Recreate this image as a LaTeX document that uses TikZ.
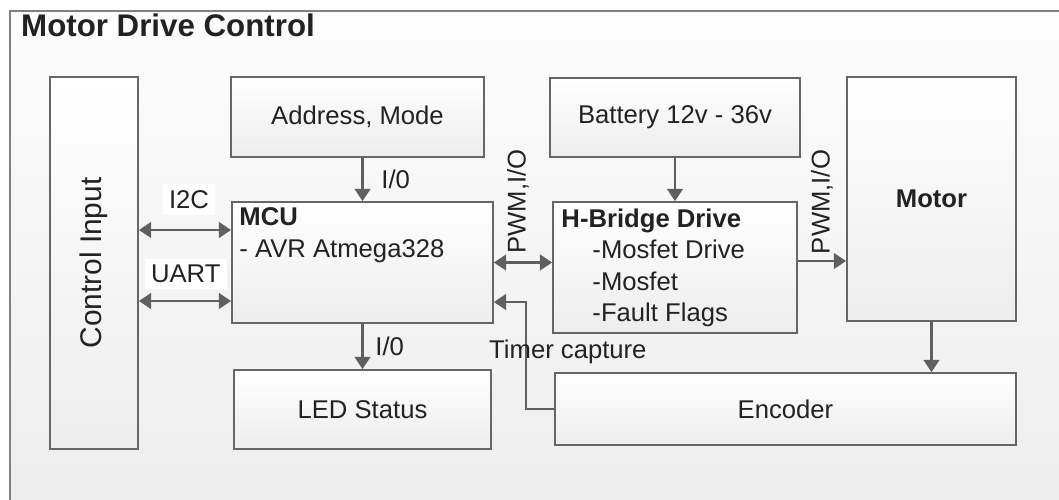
\documentclass[tikz,border=0pt]{standalone}
\usepackage{fontspec}
\setmainfont{Liberation Sans}
\usepackage{xcolor}
\usetikzlibrary{arrows.meta, positioning, calc, shadows}
\definecolor{darktext}{HTML}{222222}
\definecolor{boxline}{HTML}{666666}
\definecolor{wireline}{HTML}{5F5F5F}
\definecolor{framegray}{HTML}{808080}

\begin{document}
\begin{tikzpicture}[
            font=\fontsize{14.6pt}{18pt}\selectfont, text=darktext,
            blk/.style={draw=boxline, line width=1pt, top color=white, bottom color=black!7,
                        drop shadow={opacity=0.25, shadow xshift=0.8pt, shadow yshift=-0.8pt},
                        inner sep=0pt},
            wire/.style={draw=wireline, line width=1.2pt, -{Triangle[length=7pt, width=9pt]}},
            dwire/.style={wire, {Triangle[length=7pt, width=9pt]}-{Triangle[length=7pt, width=9pt]}},
            tag/.style={fill=white, inner sep=3.5pt}]
            \useasboundingbox (0,0) rectangle (21.18,10);
            \clip (0,0) rectangle (21.18,10);
            \fill[top color=black!1, bottom color=black!7] (0.2,-0.2) rectangle (21.4,9.78);
            \draw[framegray, line width=1.1pt] (0.2,-0.2) -- (0.2,9.78) -- (21.4,9.78);
            \node[anchor=base west, font=\fontsize{17.8pt}{20pt}\selectfont\bfseries] (title) at (0.3,9.26) {Motor Drive Control};
            % blocks
            \node[blk, minimum width=1.76cm, minimum height=7.44cm] (ctrl) at (1.88,4.74)
                {\rotatebox{90}{\fontsize{17pt}{20pt}\selectfont Control Input}};
            \node[blk, minimum width=5.06cm, minimum height=1.6cm] (addr) at (7.15,7.66) {Address, Mode};
            \node[blk, minimum width=5.22cm, minimum height=2.42cm] (mcu) at (7.25,4.75) {};
            \node[blk, minimum width=5.14cm, minimum height=1.58cm] (led) at (7.25,1.81) {LED Status};
            \node[blk, minimum width=5.0cm, minimum height=1.58cm] (batt) at (13.5,7.65) {Battery 12v - 36v};
            \node[blk, minimum width=4.88cm, minimum height=2.62cm] (hbr) at (13.5,4.65) {};
            \node[blk, minimum width=3.38cm, minimum height=4.88cm, font=\fontsize{14.6pt}{18pt}\selectfont\bfseries] (motor) at (18.63,6.02) {Motor};
            \node[blk, minimum width=9.22cm, minimum height=1.44cm] (enc) at (15.71,1.82) {Encoder};
            \node[anchor=north west, align=left, inner sep=0pt] (mcutxt) at ([xshift=0.16cm, yshift=-0.12cm]mcu.north west)
                {\textbf{MCU}\\- AVR Atmega328};
            \node[anchor=north west, align=left, inner sep=0pt] (hbrtxt) at ([xshift=0.18cm, yshift=-0.14cm]hbr.north west)
                {\textbf{H-Bridge Drive}\\\hspace*{0.62cm}-Mosfet Drive\\\hspace*{0.62cm}-Mosfet\\\hspace*{0.62cm}-Fault Flags};
            % links
            \coordinate (i2cend) at ([yshift=0.65cm]mcu.west);
            \coordinate (uartend) at ([yshift=-0.77cm]mcu.west);
            \draw[dwire] (i2cend -| ctrl.east) -- (i2cend)
                node[pos=0, anchor=south west, xshift=0.46cm, yshift=0.28cm, tag] (i2c) {I2C};
            \draw[dwire] (uartend -| ctrl.east) -- (uartend)
                node[pos=0, anchor=south west, xshift=0.1cm, yshift=0.22cm, tag] (uart) {UART};
            \draw[wire] (addr.south -| mcu.north) -- (mcu.north) node[midway, right=0.24cm] (io1) {I/0};
            \draw[wire] (mcu.south) -- (led.north -| mcu.south) node[midway, right=0.12cm] (io2) {I/0};
            \draw[dwire] (mcu.east) -- (mcu.east -| hbr.west)
                node[midway, xshift=-0.1cm, yshift=0.04cm, rotate=90, anchor=west] (pwm1) {PWM,I/O};
            \draw[wire] (batt.south) -- (hbr.north);
            \coordinate (hbout) at ([yshift=0.13cm]hbr.east);
            \draw[wire] (hbout) -- (hbout -| motor.west)
                node[midway, rotate=90, anchor=west] (pwm2) {PWM,I/O};
            \draw[wire] (motor.south) -- (motor.south |- enc.north);
            \coordinate (tcap) at ([xshift=0.64cm, yshift=-0.79cm]mcu.east);
            \draw[wire] (enc.west) -| (tcap) -- (tcap -| mcu.east);
            \node[anchor=west, inner sep=0pt] (tcaptxt) at ([xshift=-0.74cm, yshift=-1cm]tcap) {Timer capture};
        \end{tikzpicture}
\end{document}
